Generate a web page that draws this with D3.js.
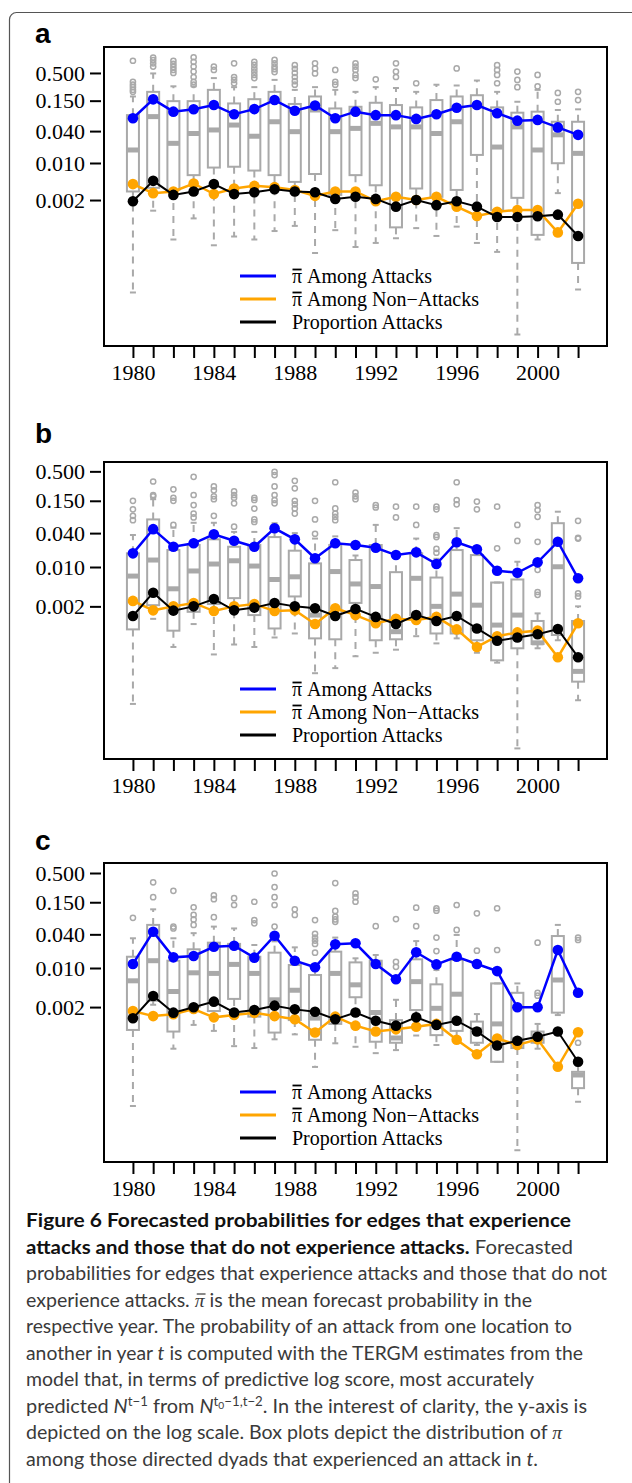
<!DOCTYPE html>
<html>
<head>
<meta charset="utf-8">
<script src="https://cdn.jsdelivr.net/npm/d3@7"></script>
<style>
  body { margin: 0; background: #fff; }
</style>
</head>
<body>
<svg id="fig" width="632" height="1483"></svg>
<script>
// years on the x axis
const years = [1980, 1981, 1982, 1983, 1984, 1985, 1986, 1987, 1988, 1989, 1990, 1991,
               1992, 1993, 1994, 1995, 1996, 1997, 1998, 1999, 2000, 2001, 2002];
const yTicks = [0.002, 0.010, 0.040, 0.150, 0.500];
const xLabelYears = [1980, 1984, 1988, 1992, 1996, 2000];
// first two entries get a bar over the pi (drawn below)
const legendLabels = ["\u03C0 Among Attacks", "\u03C0 Among Non\u2212Attacks", "Proportion Attacks"];

// ---- panel a ----
const a_blue   = [0.070, 0.159, 0.093, 0.103, 0.124, 0.083, 0.104, 0.154, 0.097, 0.122, 0.070, 0.093, 0.080, 0.080, 0.068, 0.083, 0.110, 0.124, 0.087, 0.063, 0.065, 0.047, 0.034];
const a_orange = [0.0040, 0.0027, 0.0029, 0.0041, 0.0026, 0.0033, 0.0037, 0.0035, 0.0031, 0.0024, 0.0029, 0.0029, 0.0019, 0.0023, 0.0020, 0.0023, 0.0015, 0.0010, 0.0012, 0.0013, 0.0013, 0.00049, 0.0017];
const a_black  = [0.0019, 0.0046, 0.0025, 0.0029, 0.0040, 0.0026, 0.0028, 0.0032, 0.0029, 0.0028, 0.0021, 0.0023, 0.0021, 0.0015, 0.0020, 0.0016, 0.0019, 0.0015, 0.00096, 0.00096, 0.00099, 0.00106, 0.00042];
const a_hi  = [0.18, 0.49, 0.28, 0.28, 0.40, 0.27, 0.27, 0.37, 0.24, 0.27, 0.24, 0.22, 0.27, 0.26, 0.22, 0.30, 0.29, 0.36, 0.22, 0.143, 0.24, 0.100, 0.103];
const a_q3  = [0.080, 0.22, 0.147, 0.147, 0.24, 0.133, 0.16, 0.22, 0.13, 0.18, 0.107, 0.115, 0.137, 0.124, 0.112, 0.154, 0.18, 0.19, 0.112, 0.089, 0.093, 0.060, 0.060];
const a_med = [0.0176, 0.075, 0.0235, 0.036, 0.042, 0.052, 0.032, 0.060, 0.039, 0.100, 0.039, 0.045, 0.056, 0.048, 0.048, 0.036, 0.060, 0.12, 0.020, 0.048, 0.0176, 0.034, 0.0152];
const a_q1  = [0.0029, 0.0034, 0.0031, 0.0059, 0.0082, 0.0085, 0.0072, 0.0059, 0.0044, 0.0062, 0.0025, 0.0059, 0.0038, 0.00061, 0.0033, 0.0023, 0.0031, 0.0142, 0.0013, 0.0022, 0.00044, 0.0099, 0.00013];
const a_lo  = [0.000036, 0.00126, 0.00036, 0.00090, 0.00028, 0.00041, 0.00036, 0.00052, 0.00065, 0.00020, 0.00054, 0.00026, 0.00031, 0.00038, 0.00059, 0.00042, 0.00063, 0.00031, 0.00021, 0.0000058, 0.00036, 0.0027, 0.000041];
const a_out = [
  [0.85, 0.34, 0.30, 0.27, 0.24, 0.22], [0.98, 0.87, 0.76, 0.66], [0.85, 0.74, 0.65, 0.57, 0.50],
  [0.99, 0.81, 0.66, 0.53, 0.42, 0.34, 0.30], [0.66, 0.57], [0.76, 0.42, 0.37, 0.32],
  [0.81, 0.71, 0.61, 0.53, 0.46, 0.40], [0.88, 0.76, 0.66, 0.59, 0.52], [0.70, 0.60, 0.50, 0.42, 0.35, 0.30],
  [0.76, 0.61, 0.49], [0.57, 0.34, 0.30], [0.76, 0.66, 0.57, 0.46, 0.40], [0.38], [0.76, 0.53, 0.42],
  [0.32], [], [0.61], [], [0.70, 0.57, 0.46, 0.32], [0.53, 0.37, 0.27], [0.46, 0.28], [0.21, 0.143], [0.22, 0.154]
];

// ---- panel b ----
const b_blue   = [0.0175, 0.047, 0.0229, 0.0264, 0.038, 0.0293, 0.0229, 0.0487, 0.031, 0.0143, 0.0264, 0.0246, 0.022, 0.0163, 0.0182, 0.0113, 0.0275, 0.0206, 0.0086, 0.0079, 0.0121, 0.0281, 0.0063];
const b_orange = [0.0025, 0.0017, 0.0020, 0.0023, 0.00165, 0.0020, 0.0022, 0.00165, 0.0017, 0.00097, 0.00185, 0.0014, 0.0010, 0.0012, 0.00115, 0.0013, 0.00078, 0.00038, 0.00059, 0.00069, 0.00074, 0.00025, 0.0010];
const b_black  = [0.00135, 0.0035, 0.00168, 0.0020, 0.0027, 0.0017, 0.0019, 0.0023, 0.0020, 0.00185, 0.00135, 0.0018, 0.0013, 0.00097, 0.0014, 0.0011, 0.00135, 0.00081, 0.00049, 0.00056, 0.00064, 0.00079, 0.00025];
const b_hi  = [0.037, 0.16, 0.05, 0.061, 0.061, 0.042, 0.042, 0.06, 0.04, 0.032, 0.035, 0.016, 0.056, 0.0163, 0.032, 0.014, 0.049, 0.0163, 0.0053, 0.0124, 0.0015, 0.096, 0.002];
const b_q3  = [0.0175, 0.07, 0.020, 0.0246, 0.031, 0.0229, 0.0246, 0.034, 0.0195, 0.0116, 0.0246, 0.0133, 0.0246, 0.0081, 0.0175, 0.0065, 0.020, 0.0163, 0.0053, 0.006, 0.0011, 0.06, 0.0011];
const b_med = [0.0069, 0.0133, 0.0041, 0.0085, 0.0113, 0.0129, 0.0104, 0.0060, 0.0067, 0.0014, 0.0083, 0.005, 0.0045, 0.00071, 0.0063, 0.0020, 0.0033, 0.0021, 0.00093, 0.0014, 0.00045, 0.0101, 0.00014];
const b_q1  = [0.00078, 0.0021, 0.00074, 0.0016, 0.0022, 0.0028, 0.0014, 0.00081, 0.003, 0.00054, 0.00052, 0.0023, 0.0005, 0.00052, 0.0014, 0.00066, 0.00066, 0.0005, 0.00022, 0.00036, 0.00043, 0.00062, 0.000092];
const b_lo  = [0.000037, 0.0012, 0.00038, 0.00097, 0.00028, 0.00042, 0.00038, 0.00056, 0.00066, 0.00013, 0.00016, 0.00026, 0.00030, 0.00034, 0.00059, 0.00044, 0.00054, 0.0003, 0.0002, 0.000006, 0.00036, 0.0005, 0.000043];
const b_out = [
  [0.15, 0.106, 0.081, 0.068], [0.33, 0.19, 0.18], [0.24, 0.17, 0.15, 0.056], [0.40, 0.19, 0.126, 0.089, 0.076],
  [0.27, 0.23, 0.18, 0.16, 0.081], [0.22, 0.19, 0.17, 0.135, 0.052], [0.17, 0.155, 0.109, 0.07, 0.063],
  [0.49, 0.43, 0.27, 0.19, 0.155, 0.135], [0.34, 0.25, 0.15, 0.13, 0.11, 0.089], [0.15, 0.07, 0.039],
  [0.32, 0.11, 0.089, 0.078, 0.068], [0.21, 0.18, 0.16], [0.126, 0.114], [0.118, 0.076], [0.118, 0.056],
  [0.118, 0.106, 0.037, 0.034, 0.021, 0.0179], [0.32, 0.155, 0.13], [0.145, 0.106], [0.118, 0.0215],
  [0.056, 0.029], [0.126, 0.103, 0.078, 0.028, 0.0089, 0.0036, 0.0032], [], [0.066, 0.033, 0.032, 0.0034, 0.003]
];

// ---- panel c ----
const c_blue   = [0.0118, 0.0446, 0.0155, 0.0164, 0.024, 0.025, 0.0153, 0.0378, 0.0135, 0.0103, 0.0265, 0.0277, 0.0118, 0.0063, 0.0191, 0.0116, 0.0159, 0.0118, 0.0088, 0.00198, 0.00198, 0.021, 0.0036];
const c_orange = [0.0017, 0.00138, 0.00149, 0.00185, 0.00131, 0.00144, 0.00159, 0.00138, 0.00121, 0.0007, 0.00135, 0.00093, 0.00073, 0.0008, 0.00089, 0.0010, 0.00052, 0.000286, 0.00055, 0.00042, 0.00053, 0.000171, 0.00071];
const c_black  = [0.00126, 0.00316, 0.00159, 0.00198, 0.0025, 0.0016, 0.00177, 0.00212, 0.00182, 0.00165, 0.00121, 0.0016, 0.00114, 0.00093, 0.00131, 0.00096, 0.00114, 0.00073, 0.00041, 0.0005, 0.00059, 0.00073, 0.00021];
const c_hi  = [0.034, 0.112, 0.034, 0.042, 0.055, 0.051, 0.0258, 0.030, 0.0234, 0.009, 0.035, 0.0149, 0.0171, 0.0027, 0.0303, 0.0092, 0.039, 0.0015, 0.0053, 0.0053, 0.001, 0.059, 0.00018];
const c_q3  = [0.0159, 0.059, 0.0135, 0.0216, 0.0284, 0.027, 0.0159, 0.0188, 0.0113, 0.0075, 0.0196, 0.0126, 0.0135, 0.00117, 0.0143, 0.0051, 0.0139, 0.0011, 0.0053, 0.0036, 0.00073, 0.0373, 0.000139];
const c_med = [0.0059, 0.0135, 0.0038, 0.0082, 0.008, 0.0116, 0.008, 0.0027, 0.004, 0.00127, 0.008, 0.005, 0.0016, 0.00056, 0.0057, 0.0019, 0.0034, 0.00078, 0.0010, 0.00052, 0.00055, 0.0061, 0.000122];
const c_q1  = [0.00078, 0.0026, 0.00073, 0.002, 0.0017, 0.0028, 0.00135, 0.0007, 0.00117, 0.00052, 0.0010, 0.003, 0.00048, 0.00046, 0.00177, 0.00063, 0.00075, 0.00046, 0.00021, 0.00037, 0.00046, 0.00159, 0.000071];
const c_lo  = [0.000034, 0.0022, 0.00036, 0.00096, 0.00075, 0.0004, 0.00037, 0.00053, 0.00065, 0.00017, 0.00045, 0.00039, 0.0003, 0.00034, 0.00062, 0.00042, 0.0005, 0.00042, 0.00021, 0.0000055, 0.00036, 0.00144, 0.0000405];
const c_out = [
  [0.079], [0.34, 0.185], [0.24, 0.055, 0.051], [0.122, 0.089, 0.074, 0.059], [0.2, 0.17, 0.081], [0.177, 0.134],
  [0.153, 0.072, 0.063], [0.49, 0.28, 0.185, 0.134, 0.055], [0.112, 0.089], [0.072, 0.041, 0.035, 0.031, 0.027, 0.0188],
  [0.33, 0.105, 0.083, 0.074, 0.067], [0.216, 0.185, 0.153], [0.056], [0.075, 0.0129, 0.0105], [0.12, 0.056],
  [0.117, 0.106, 0.035, 0.0201], [0.134, 0.048], [0.095, 0.0204], [0.117, 0.021], [], [0.0284, 0.0036, 0.0032], [],
  [0.035, 0.0317, 0.00046]
];

// layout of the three panels
const panels = [
  { label: "a", labelY: 43,  top: 47,  bottom: 346,  yDomain: [3.52e-6, 1.545],
    blue: a_blue, orange: a_orange, black: a_black, hi: a_hi, q3: a_q3, med: a_med, q1: a_q1, lo: a_lo, out: a_out },
  { label: "b", labelY: 443, top: 462, bottom: 759,  yDomain: [3.89e-6, 0.733],
    blue: b_blue, orange: b_orange, black: b_black, hi: b_hi, q3: b_q3, med: b_med, q1: b_q1, lo: b_lo, out: b_out },
  { label: "c", labelY: 850, top: 863, bottom: 1162, yDomain: [3.39e-6, 0.755],
    blue: c_blue, orange: c_orange, black: c_black, hi: c_hi, q3: c_q3, med: c_med, q1: c_q1, lo: c_lo, out: c_out }
];

const svg = d3.select("#fig");
const gray = "#a9a9a9";
const serif = "'Liberation Serif', 'Times New Roman', serif";
const left = 104, right = 607;

// figure frame (open to the right and bottom)
svg.append("rect")
  .attr("x", 9.5).attr("y", 12.5).attr("width", 800).attr("height", 1600).attr("rx", 7)
  .attr("fill", "none").attr("stroke", "#555").attr("stroke-width", 1.2);

const x = d3.scaleLinear().domain([1978.57, 2003.43]).range([left, right]);

function drawPanel(p) {
  const y = d3.scaleLog().domain(p.yDomain).range([p.bottom, p.top]);
  const g = svg.append("g");

  g.append("text")
    .attr("x", 35).attr("y", p.labelY)
    .attr("font-family", "'Liberation Sans', Arial, sans-serif")
    .attr("font-weight", "bold").attr("font-size", 28)
    .text(p.label);

  const rows = years.map((yr, i) => ({
    yr, hi: p.hi[i], q3: p.q3[i], med: p.med[i], q1: p.q1[i], lo: p.lo[i], out: p.out[i]
  }));

  // box plots
  const box = g.append("g").selectAll("g").data(rows).join("g");
  box.append("line")   // upper whisker
    .attr("x1", d => x(d.yr)).attr("x2", d => x(d.yr))
    .attr("y1", d => y(d.q3)).attr("y2", d => y(d.hi))
    .attr("stroke", gray).attr("stroke-width", 2).attr("stroke-dasharray", "7,6");
  box.append("line")   // lower whisker
    .attr("x1", d => x(d.yr)).attr("x2", d => x(d.yr))
    .attr("y1", d => y(d.q1)).attr("y2", d => y(d.lo))
    .attr("stroke", gray).attr("stroke-width", 2).attr("stroke-dasharray", "7,6");
  box.append("line")
    .attr("x1", d => x(d.yr) - 3).attr("x2", d => x(d.yr) + 3)
    .attr("y1", d => y(d.hi)).attr("y2", d => y(d.hi))
    .attr("stroke", gray).attr("stroke-width", 2);
  box.append("line")
    .attr("x1", d => x(d.yr) - 3).attr("x2", d => x(d.yr) + 3)
    .attr("y1", d => y(d.lo)).attr("y2", d => y(d.lo))
    .attr("stroke", gray).attr("stroke-width", 2);
  box.append("rect")
    .attr("x", d => x(d.yr) - 6).attr("width", 12)
    .attr("y", d => y(d.q3)).attr("height", d => y(d.q1) - y(d.q3))
    .attr("fill", "none").attr("stroke", gray).attr("stroke-width", 2);
  box.append("line")   // median
    .attr("x1", d => x(d.yr) - 6).attr("x2", d => x(d.yr) + 6)
    .attr("y1", d => y(d.med)).attr("y2", d => y(d.med))
    .attr("stroke", gray).attr("stroke-width", 5);
  box.selectAll("circle")
    .data(d => d.out.map(v => ({ yr: d.yr, v })))
    .join("circle")
    .attr("cx", d => x(d.yr)).attr("cy", d => y(d.v)).attr("r", 2.6)
    .attr("fill", "none").attr("stroke", gray).attr("stroke-width", 1.5);

  // series lines with points
  const series = [
    { vals: p.blue, color: "#0000ff", w: 2.5 },
    { vals: p.orange, color: "#ffa500", w: 2.5 },
    { vals: p.black, color: "#000000", w: 2 }
  ];
  series.forEach(s => {
    const pts = years.map((yr, i) => ({ yr, v: s.vals[i] }));
    g.append("path").datum(pts)
      .attr("fill", "none").attr("stroke", s.color).attr("stroke-width", s.w)
      .attr("d", d3.line().x(d => x(d.yr)).y(d => y(d.v)));
    g.append("g").selectAll("circle").data(pts).join("circle")
      .attr("cx", d => x(d.yr)).attr("cy", d => y(d.v)).attr("r", 5.3)
      .attr("fill", s.color);
  });

  // plot frame
  g.append("rect")
    .attr("x", left).attr("y", p.top).attr("width", right - left).attr("height", p.bottom - p.top)
    .attr("fill", "none").attr("stroke", "#000").attr("stroke-width", 2);

  // axes
  const yAxis = g.append("g").attr("transform", "translate(101,0)")
    .call(d3.axisLeft(y).tickValues(yTicks).tickFormat(d3.format(".3f")).tickSize(11).tickPadding(5));
  const xAxis = g.append("g").attr("transform", `translate(0,${p.bottom})`)
    .call(d3.axisBottom(x).tickValues(years).tickSize(12).tickPadding(6)
      .tickFormat(d => xLabelYears.includes(d) ? String(d) : ""));
  [yAxis, xAxis].forEach(ax => {
    ax.select(".domain").remove();
    ax.selectAll(".tick line").attr("stroke", "#000").attr("stroke-width", 2);
    ax.selectAll(".tick text").attr("fill", "#000")
      .attr("font-family", serif).attr("font-size", 22);
  });

  // legend
  const legendColors = ["#0000ff", "#ffa500", "#000000"];
  const leg = g.append("g").selectAll("g").data(legendLabels).join("g")
    .attr("transform", (d, i) => `translate(0,${p.bottom - 70 + 23 * i})`);
  leg.append("line").attr("x1", 240).attr("x2", 276)
    .attr("stroke", (d, i) => legendColors[i]).attr("stroke-width", 3);
  leg.append("text").attr("x", 292).attr("dy", "0.33em")
    .attr("font-family", serif).attr("font-size", 20).text(d => d);
  // bar over pi
  leg.filter((d, i) => i < 2).each(function () {
    const e = d3.select(this).select("text").node().getExtentOfChar(0);
    d3.select(this).append("line")
      .attr("x1", e.x + 0.5).attr("x2", e.x + e.width - 0.5)
      .attr("y1", -6.5).attr("y2", -6.5)
      .attr("stroke", "#000").attr("stroke-width", 1.8);
  });
}

panels.forEach(drawPanel);

// caption
const capFont = "Lato, 'Open Sans', sans-serif";
const capLines = [
  { right: 571, parts: [{ t: "Figure 6 Forecasted probabilities for edges that experience", b: true }] },
  { right: 573, parts: [{ t: "attacks and those that do not experience attacks.", b: true }, { t: " Forecasted" }] },
  { right: 607, parts: [{ t: "probabilities for edges that experience attacks and those that do not" }] },
  { right: 532, parts: [{ t: "experience attacks. " }, { t: "\u03C0", i: true, bar: true }, { t: " is the mean forecast probability in the" }] },
  { right: 572, parts: [{ t: "respective year. The probability of an attack from one location to" }] },
  { right: 583, parts: [{ t: "another in year " }, { t: "t", i: true }, { t: " is computed with the TERGM estimates from the" }] },
  { right: 534, parts: [{ t: "model that, in terms of predictive log score, most accurately" }] },
  { right: 587, parts: [{ t: "predicted " }, { t: "N", i: true }, { t: "t\u22121", sup: true }, { t: " from " }, { t: "N", i: true },
                        { t: "t", sup: true }, { t: "0", sub2: true }, { t: "\u22121,t\u22122", sup: true },
                        { t: ". In the interest of clarity, the y-axis is" }] },
  { right: 562, parts: [{ t: "depicted on the log scale. Box plots depict the distribution of " }, { t: "\u03C0", i: true }] },
  { right: 538, parts: [{ t: "among those directed dyads that experienced an attack in " }, { t: "t", i: true }, { t: "." }] }
];
const cap = svg.append("g");
capLines.forEach((ln, k) => {
  const baseY = 1227 + 26.5 * k;
  const txt = cap.append("text")
    .attr("x", 26).attr("y", baseY)
    .attr("font-family", capFont).attr("font-size", 19.5).attr("fill", "#3a3a3a")
    .attr("textLength", ln.right - 26).attr("lengthAdjust", "spacingAndGlyphs");
  let pos = 0;
  const bars = [];
  ln.parts.forEach(pt => {
    const ts = txt.append("tspan").text(pt.t);
    if (pt.b) ts.attr("font-weight", "bold").attr("fill", "#111");
    if (pt.i) ts.attr("font-style", "italic").attr("font-family", pt.t === "N" || pt.t === "t" ? capFont : serif);
    if (pt.sup) ts.attr("font-size", 13).attr("baseline-shift", "7");
    if (pt.sub2) ts.attr("font-size", 10).attr("baseline-shift", "4");
    if (pt.bar) bars.push(pos);
    pos += pt.t.length;
  });
  bars.forEach(ci => {
    const e = txt.node().getExtentOfChar(ci);
    cap.append("line")
      .attr("x1", e.x + 2).attr("x2", e.x + e.width + 1)
      .attr("y1", baseY - 12.5).attr("y2", baseY - 12.5)
      .attr("stroke", "#3a3a3a").attr("stroke-width", 1.2);
  });
});
</script>
</body>
</html>
